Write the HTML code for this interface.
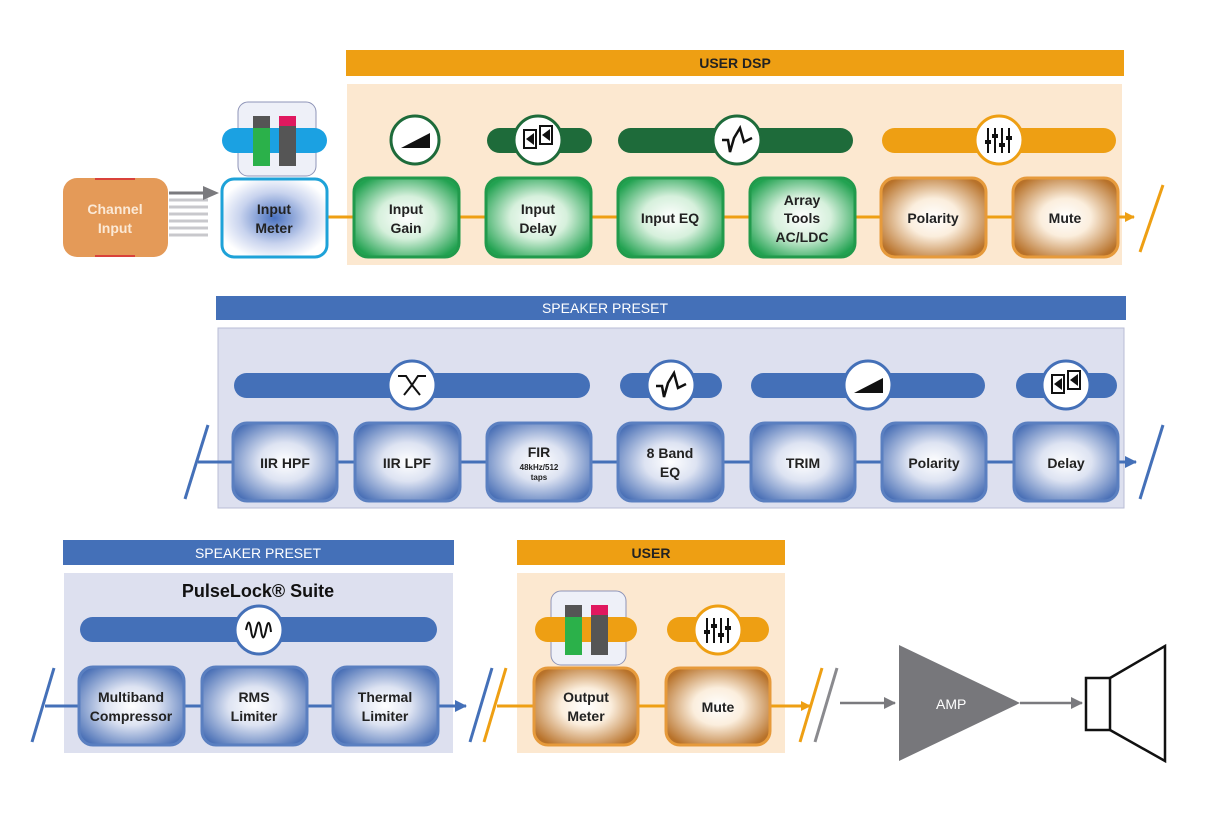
<!DOCTYPE html>
<html><head><meta charset="utf-8"><style>
html,body{margin:0;padding:0;background:#fff;}
svg{display:block;font-family:"Liberation Sans",sans-serif;font-weight:bold;}
</style></head><body>
<svg width="1206" height="830" viewBox="0 0 1206 830" xmlns="http://www.w3.org/2000/svg">
<defs>
<radialGradient id="gG" cx="50%" cy="50%" r="60%"><stop offset="0" stop-color="#fff"/><stop offset="0.45" stop-color="#d6f0dc"/><stop offset="1" stop-color="#22a251"/></radialGradient>
<radialGradient id="gO" cx="50%" cy="50%" r="60%"><stop offset="0" stop-color="#fff"/><stop offset="0.4" stop-color="#fbeedd"/><stop offset="1" stop-color="#b8722a"/></radialGradient>
<radialGradient id="gB" cx="50%" cy="50%" r="62%"><stop offset="0" stop-color="#fff"/><stop offset="0.4" stop-color="#dde3f2"/><stop offset="1" stop-color="#4a70b6"/></radialGradient>
<radialGradient id="gM" cx="50%" cy="50%" r="55%"><stop offset="0" stop-color="#4a72c0"/><stop offset="0.6" stop-color="#c8d3ee"/><stop offset="1" stop-color="#fff"/></radialGradient>
<marker id="aO" markerWidth="10" markerHeight="10" refX="9" refY="5" orient="auto" markerUnits="userSpaceOnUse"><path d="M0,0 L10,5 L0,10z" fill="#ee9f13"/></marker>
<marker id="aB" markerWidth="12" markerHeight="12" refX="11" refY="6" orient="auto" markerUnits="userSpaceOnUse"><path d="M0,0 L12,6 L0,12z" fill="#4470b8"/></marker>
<marker id="aG" markerWidth="12" markerHeight="12" refX="11" refY="6" orient="auto" markerUnits="userSpaceOnUse"><path d="M0,0 L12,6 L0,12z" fill="#7a7a7e"/></marker>
</defs>

<!-- ROW 1 -->
<rect x="346" y="50" width="778" height="26" fill="#ee9f13"/>
<text x="735" y="68" font-size="14" text-anchor="middle" fill="#222">USER DSP</text>
<rect x="347" y="84" width="775" height="181" fill="#fce8d0"/>
<line x1="327" y1="217" x2="1134" y2="217" stroke="#ee9f13" stroke-width="3" marker-end="url(#aO)"/>
<line x1="1140" y1="252" x2="1163" y2="185" stroke="#ee9f13" stroke-width="3"/>

<!-- channel input -->
<rect x="63" y="178" width="105" height="79" rx="14" fill="#e49a58"/>
<rect x="95" y="178" width="40" height="2" fill="#d9423a"/><rect x="95" y="255" width="40" height="2" fill="#d9423a"/>
<text x="115" y="214" font-size="14" text-anchor="middle" fill="#fbe9d6">Channel</text>
<text x="115" y="233" font-size="14" text-anchor="middle" fill="#fbe9d6">Input</text>
<g stroke="#c8c8cc" stroke-width="3" fill="#c8c8cc">
<line x1="169" y1="200" x2="208" y2="200"/><line x1="169" y1="207" x2="208" y2="207"/><line x1="169" y1="214" x2="208" y2="214"/><line x1="169" y1="221" x2="208" y2="221"/><line x1="169" y1="228" x2="208" y2="228"/><line x1="169" y1="235" x2="208" y2="235"/>
</g>
<line x1="169" y1="193" x2="205" y2="193" stroke="#7a7a7e" stroke-width="3"/><path d="M203,186 L219,193 L203,200z" fill="#7a7a7e"/>

<!-- input meter -->
<rect x="238" y="102" width="78" height="74" rx="10" fill="#eef0f8" stroke="#8f95b8"/>
<rect x="222" y="128" width="105" height="25" rx="12.5" fill="#1ba1e2"/>
<rect x="253" y="116" width="17" height="50" fill="#555"/><rect x="253" y="128" width="17" height="38" fill="#2bb14a"/>
<rect x="279" y="116" width="17" height="50" fill="#555"/><rect x="279" y="116" width="17" height="10" fill="#e0185f"/>
<rect x="222" y="179" width="105" height="78" rx="12" fill="url(#gM)" stroke="#1ea2d8" stroke-width="3"/>
<text x="274" y="214" font-size="14" text-anchor="middle" fill="#222">Input</text>
<text x="274" y="233" font-size="14" text-anchor="middle" fill="#222">Meter</text>

<!-- green icons -->
<circle cx="415" cy="140" r="24" fill="#fff" stroke="#1e6b3a" stroke-width="3"/>
<path d="M401,148 L430,133 L430,148z" fill="#111"/>
<rect x="487" y="128" width="105" height="25" rx="12.5" fill="#1e6b3a"/>
<circle cx="538" cy="140" r="24" fill="#fff" stroke="#1e6b3a" stroke-width="3"/>
<rect x="524" y="130" width="12" height="18" fill="none" stroke="#111" stroke-width="2"/><path d="M526,139 L534,133 L534,145z" fill="#111"/>
<rect x="540" y="126" width="12" height="18" fill="none" stroke="#111" stroke-width="2"/><path d="M542,135 L550,129 L550,141z" fill="#111"/>
<rect x="618" y="128" width="235" height="25" rx="12.5" fill="#1e6b3a"/>
<circle cx="737" cy="140" r="24" fill="#fff" stroke="#1e6b3a" stroke-width="3"/>
<path d="M722,140 L728,140 L730,152 L734,138 L740,128 L744,142 L752,138" fill="none" stroke="#111" stroke-width="2.5"/>
<rect x="882" y="128" width="234" height="25" rx="12.5" fill="#ee9f13"/>
<circle cx="999" cy="140" r="24" fill="#fff" stroke="#ee9f13" stroke-width="3"/>
<g stroke="#111" stroke-width="2"><line x1="988" y1="128" x2="988" y2="153"/><line x1="995" y1="128" x2="995" y2="153"/><line x1="1002" y1="128" x2="1002" y2="153"/><line x1="1009" y1="128" x2="1009" y2="153"/></g>
<g fill="#111"><rect x="985" y="140" width="6" height="4"/><rect x="992" y="134" width="6" height="4"/><rect x="999" y="143" width="6" height="4"/><rect x="1006" y="136" width="6" height="4"/></g>

<!-- row1 boxes -->
<g stroke-width="3" font-size="14" text-anchor="middle" fill="#222">
<rect x="354" y="178" width="105" height="79" rx="14" fill="url(#gG)" stroke="#219a4c"/>
<rect x="486" y="178" width="105" height="79" rx="14" fill="url(#gG)" stroke="#219a4c"/>
<rect x="618" y="178" width="105" height="79" rx="14" fill="url(#gG)" stroke="#219a4c"/>
<rect x="750" y="178" width="105" height="79" rx="14" fill="url(#gG)" stroke="#219a4c"/>
<rect x="881" y="178" width="105" height="79" rx="14" fill="url(#gO)" stroke="#e69a3b"/>
<rect x="1013" y="178" width="105" height="79" rx="14" fill="url(#gO)" stroke="#e69a3b"/>
</g>
<g font-size="14" text-anchor="middle" fill="#222">
<text x="406" y="214">Input</text><text x="406" y="233">Gain</text>
<text x="538" y="214">Input</text><text x="538" y="233">Delay</text>
<text x="670" y="223">Input EQ</text>
<text x="802" y="205">Array</text><text x="802" y="223">Tools</text><text x="802" y="242">AC/LDC</text>
<text x="933" y="223">Polarity</text>
<text x="1065" y="223">Mute</text>
</g>

<!-- ROW 2 -->
<rect x="216" y="296" width="910" height="24" fill="#4470b8"/>
<text x="605" y="313" font-size="14" text-anchor="middle" fill="#fff" font-weight="normal">SPEAKER PRESET</text>
<rect x="218" y="328" width="906" height="180" fill="#dde0ef" stroke="#b9bdd6"/>
<line x1="198" y1="462" x2="1136" y2="462" stroke="#4470b8" stroke-width="3" marker-end="url(#aB)"/>
<line x1="185" y1="499" x2="208" y2="425" stroke="#4470b8" stroke-width="3"/>
<line x1="1140" y1="499" x2="1163" y2="425" stroke="#4470b8" stroke-width="3"/>
<g fill="#4470b8">
<rect x="234" y="373" width="356" height="25" rx="12.5"/>
<rect x="620" y="373" width="102" height="25" rx="12.5"/>
<rect x="751" y="373" width="234" height="25" rx="12.5"/>
<rect x="1016" y="373" width="101" height="25" rx="12.5"/>
</g>
<g fill="#fff" stroke="#4470b8" stroke-width="3">
<circle cx="412" cy="385" r="24"/><circle cx="671" cy="385" r="24"/><circle cx="868" cy="385" r="24"/><circle cx="1066" cy="385" r="24"/>
</g>
<path d="M398,376 L406,376 L412,385 L418,376 L426,376 M404,395 L412,385 L420,395" fill="none" stroke="#111" stroke-width="2"/>
<path d="M656,386 L662,386 L664,397 L668,383 L674,373 L678,388 L686,384" fill="none" stroke="#111" stroke-width="2.5"/>
<path d="M854,393 L883,378 L883,393z" fill="#111"/>
<rect x="1052" y="375" width="12" height="18" fill="none" stroke="#111" stroke-width="2"/><path d="M1054,384 L1062,378 L1062,390z" fill="#111"/>
<rect x="1068" y="371" width="12" height="18" fill="none" stroke="#111" stroke-width="2"/><path d="M1070,380 L1078,374 L1078,386z" fill="#111"/>
<g stroke="#5a7fc0" stroke-width="3">
<rect x="233" y="423" width="104" height="78" rx="14" fill="url(#gB)"/>
<rect x="355" y="423" width="105" height="78" rx="14" fill="url(#gB)"/>
<rect x="487" y="423" width="104" height="78" rx="14" fill="url(#gB)"/>
<rect x="618" y="423" width="105" height="78" rx="14" fill="url(#gB)"/>
<rect x="751" y="423" width="104" height="78" rx="14" fill="url(#gB)"/>
<rect x="882" y="423" width="104" height="78" rx="14" fill="url(#gB)"/>
<rect x="1014" y="423" width="104" height="78" rx="14" fill="url(#gB)"/>
</g>
<g font-size="14" text-anchor="middle" fill="#222">
<text x="285" y="468">IIR HPF</text>
<text x="407" y="468">IIR LPF</text>
<text x="539" y="457">FIR</text><text x="539" y="470" font-size="8">48kHz/512</text><text x="539" y="480" font-size="8">taps</text>
<text x="670" y="458">8 Band</text><text x="670" y="477">EQ</text>
<text x="803" y="468">TRIM</text>
<text x="934" y="468">Polarity</text>
<text x="1066" y="468">Delay</text>
</g>

<!-- ROW 3 -->
<rect x="63" y="540" width="391" height="25" fill="#4470b8"/>
<text x="258" y="558" font-size="14" text-anchor="middle" fill="#fff" font-weight="normal">SPEAKER PRESET</text>
<rect x="64" y="573" width="389" height="180" fill="#dde0ef"/>
<text x="258" y="597" font-size="18" text-anchor="middle" fill="#111" font-weight="900">PulseLock® Suite</text>
<rect x="80" y="617" width="357" height="25" rx="12.5" fill="#4470b8"/>
<circle cx="259" cy="630" r="24" fill="#fff" stroke="#4470b8" stroke-width="3"/>
<path d="M246,630 Q249,615 251,630 T256,630 T261,630 T266,630 T271,632" fill="none" stroke="#111" stroke-width="2"/>
<line x1="45" y1="706" x2="466" y2="706" stroke="#4470b8" stroke-width="3" marker-end="url(#aB)"/>
<line x1="32" y1="742" x2="54" y2="668" stroke="#4470b8" stroke-width="3"/>
<line x1="470" y1="742" x2="492" y2="668" stroke="#4470b8" stroke-width="3"/>
<line x1="484" y1="742" x2="506" y2="668" stroke="#ee9f13" stroke-width="3"/>
<g stroke="#5a7fc0" stroke-width="3">
<rect x="79" y="667" width="105" height="78" rx="14" fill="url(#gB)"/>
<rect x="202" y="667" width="105" height="78" rx="14" fill="url(#gB)"/>
<rect x="333" y="667" width="105" height="78" rx="14" fill="url(#gB)"/>
</g>
<g font-size="14" text-anchor="middle" fill="#222">
<text x="131" y="702">Multiband</text><text x="131" y="721">Compressor</text>
<text x="254" y="702">RMS</text><text x="254" y="721">Limiter</text>
<text x="385" y="702">Thermal</text><text x="385" y="721">Limiter</text>
</g>

<rect x="517" y="540" width="268" height="25" fill="#ee9f13"/>
<text x="651" y="558" font-size="14" text-anchor="middle" fill="#222">USER</text>
<rect x="517" y="573" width="268" height="180" fill="#fce8d0"/>
<line x1="497" y1="706" x2="810" y2="706" stroke="#ee9f13" stroke-width="3" marker-end="url(#aO)"/>
<line x1="800" y1="742" x2="822" y2="668" stroke="#ee9f13" stroke-width="3"/>
<line x1="815" y1="742" x2="837" y2="668" stroke="#8a8a8e" stroke-width="3"/>
<rect x="551" y="591" width="75" height="74" rx="10" fill="#eef0f8" stroke="#8f95b8"/>
<rect x="535" y="617" width="102" height="25" rx="12.5" fill="#ee9f13"/>
<rect x="565" y="605" width="17" height="50" fill="#555"/><rect x="565" y="617" width="17" height="38" fill="#2bb14a"/>
<rect x="591" y="605" width="17" height="50" fill="#555"/><rect x="591" y="605" width="17" height="10" fill="#e0185f"/>
<rect x="667" y="617" width="102" height="25" rx="12.5" fill="#ee9f13"/>
<circle cx="718" cy="630" r="24" fill="#fff" stroke="#ee9f13" stroke-width="3"/>
<g stroke="#111" stroke-width="2"><line x1="707" y1="618" x2="707" y2="643"/><line x1="714" y1="618" x2="714" y2="643"/><line x1="721" y1="618" x2="721" y2="643"/><line x1="728" y1="618" x2="728" y2="643"/></g>
<g fill="#111"><rect x="704" y="630" width="6" height="4"/><rect x="711" y="624" width="6" height="4"/><rect x="718" y="633" width="6" height="4"/><rect x="725" y="626" width="6" height="4"/></g>
<rect x="534" y="668" width="104" height="77" rx="14" fill="url(#gO)" stroke="#e69a3b" stroke-width="3"/>
<rect x="666" y="668" width="104" height="77" rx="14" fill="url(#gO)" stroke="#e69a3b" stroke-width="3"/>
<g font-size="14" text-anchor="middle" fill="#222">
<text x="586" y="702">Output</text><text x="586" y="721">Meter</text>
<text x="718" y="712">Mute</text>
</g>

<line x1="840" y1="703" x2="895" y2="703" stroke="#7a7a7e" stroke-width="2.5" marker-end="url(#aG)"/>
<path d="M899,645 L1020,703 L899,761z" fill="#77777b"/>
<text x="936" y="709" font-size="14" fill="#fff" font-weight="normal">AMP</text>
<line x1="1020" y1="703" x2="1082" y2="703" stroke="#7a7a7e" stroke-width="2.5" marker-end="url(#aG)"/>
<rect x="1086" y="678" width="24" height="52" fill="#fff" stroke="#111" stroke-width="2.5"/>
<path d="M1110,678 L1165,646 L1165,761 L1110,730" fill="none" stroke="#111" stroke-width="2.5"/>
</svg>
</body></html>
